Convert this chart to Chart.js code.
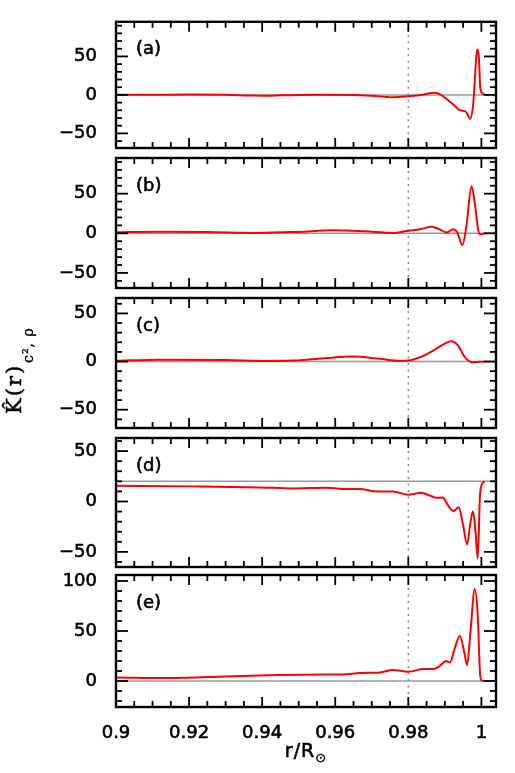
<!DOCTYPE html>
<html>
<head>
<meta charset="utf-8">
<script src="https://cdn.jsdelivr.net/npm/chart.js@4.4.1/dist/chart.umd.min.js"></script>
<style>
  html, body { margin: 0; padding: 0; background: #fff; }
  #wrap { position: relative; width: 515px; height: 773px; }
  #wrap canvas { position: absolute; left: 0; top: 0; }
</style>
</head>
<body>
<div id="wrap">
  <canvas id="pa" width="515" height="773"></canvas>
  <canvas id="pb" width="515" height="773"></canvas>
  <canvas id="pc" width="515" height="773"></canvas>
  <canvas id="pd" width="515" height="773"></canvas>
  <canvas id="pe" width="515" height="773"></canvas>
</div>
<script>
// kernels K(r) for the five cases (r in units of R_sun)
const rA = [0.900, 0.910, 0.920, 0.930, 0.937, 0.941, 0.945, 0.955, 0.965, 0.970, 0.9755, 0.980, 0.9841, 0.9868, 0.9886, 0.9909, 0.9927, 0.9941, 0.9958, 0.9969, 0.9978, 0.9982, 0.9988, 0.9993, 0.9997, 1.0002, 1.0009];
const kA = [0.3, 0.2, 0.4, 0.2, -0.8, -1.0, -0.6, 0.1, 0.0, -1.0, -3.0, -1.7, 0.3, 2.8, 1.0, -7, -14, -20, -22, -31, -10, 19, 59, 49, 9, 2.5, 0];

const rB = [0.900, 0.912, 0.925, 0.9393, 0.950, 0.9593, 0.968, 0.9758, 0.980, 0.9832, 0.9864, 0.9886, 0.9905, 0.9923, 0.9934, 0.9948, 0.9959, 0.9973, 0.9982, 0.9991, 0.9997, 1.0009];
const kB = [1.2, 2.0, 1.5, 0.5, 1.8, 3.7, 2.5, 0.5, 3.3, 5.0, 8.3, 5.0, 1.0, 5.0, 1.0, -15, 9, 59.5, 38, 5, -1.6, 0];

const rC = [0.900, 0.912, 0.9302, 0.9411, 0.9484, 0.957, 0.9649, 0.9722, 0.9777, 0.980, 0.9832, 0.9868, 0.9895, 0.9918, 0.9936, 0.9955, 0.9973, 0.9996, 1.0009];
const kC = [0.7, 2.0, 1.7, 0.7, 1.0, 3.5, 5.2, 2.8, 0.7, 1.0, 4.5, 11.4, 17.5, 21, 16.6, 4.5, -0.7, -0.3, 0];

const rD = [0.900, 0.921, 0.9393, 0.9484, 0.9576, 0.962, 0.9667, 0.9713, 0.9758, 0.980, 0.9836, 0.9859, 0.9877, 0.9894, 0.9909, 0.9923, 0.9938, 0.995, 0.9961, 0.9969, 0.9977, 0.9984, 0.999, 0.9996, 1.0002, 1.0009];
const kD = [15.7, 15.0, 14.0, 13.0, 13.7, 12.4, 12.4, 9.8, 10.0, 6.7, 8.6, 5.9, 3.6, 4.0, -3.9, -9.5, -5.8, -23.5, -42.5, -23.5, -9.7, -30, -56.5, 5, 17.3, 20];

const rE = [0.900, 0.9147, 0.9302, 0.9439, 0.9576, 0.9621, 0.9667, 0.9722, 0.9758, 0.980, 0.9841, 0.9868, 0.9886, 0.9903, 0.9914, 0.9927, 0.9941, 0.9953, 0.9961, 0.997, 0.9982, 0.999, 0.9996, 1.0, 1.0009];
const kE = [3.6, 3.0, 4.6, 6.0, 6.6, 6.6, 8.0, 8.6, 11, 9.3, 12, 12, 15, 20, 18.5, 32.5, 45, 29, 16, 49, 92, 65.6, 9.3, 0.7, 0];

const panelLabels = ['(a)', '(b)', '(c)', '(d)', '(e)'];
const yLimits = [[-69, 95], [-69, 95], [-69, 66], [-65, 63], [-26, 106]];
const yTickLabels = [[-50, 0, 50], [-50, 0, 50], [-50, 0, 50], [-50, 0, 50], [0, 50, 100]];
const refLevels = [0, 0, 0, 20, 0];
const xTickLabels = [0.9, 0.92, 0.94, 0.96, 0.98, 1];
const rMark = 0.98;

const series = [[rA, kA], [rB, kB], [rC, kC], [rD, kD], [rE, kE]];

// layout (pixels)
const tops = [16, 158, 298, 438, 575];
const bottoms = [148, 288, 428, 567, 707];
const W = 515, H = 773;
const tickFont = { family: 'DejaVu Sans', size: 18 };

// fill + thin stroke, to get the heavier look of the original lettering
function heavyText(ctx, s, x, y, lw) {
    ctx.fillText(s, x, y);
    ctx.lineWidth = lw;
    ctx.strokeStyle = '#000';
    ctx.strokeText(s, x, y);
}

// frame, inward ticks, reference line and dotted marker
const decor = {
    id: 'decor',
    beforeDatasetsDraw(chart) {
        const { ctx, chartArea: a, scales: { x, y } } = chart;
        const i = chart.options.plugins.decor.index;
        ctx.save();
        ctx.strokeStyle = '#9a9a9a';
        ctx.lineWidth = 1.5;
        const py = y.getPixelForValue(refLevels[i]);
        ctx.beginPath(); ctx.moveTo(a.left, py); ctx.lineTo(a.right, py); ctx.stroke();
        ctx.strokeStyle = '#888';
        ctx.lineWidth = 1.5;
        ctx.setLineDash([2, 4.5]);
        const px = x.getPixelForValue(rMark);
        ctx.beginPath(); ctx.moveTo(px, a.top); ctx.lineTo(px, a.bottom); ctx.stroke();
        ctx.restore();
    },
    afterDraw(chart) {
        const { ctx, chartArea: a, scales: { x, y } } = chart;
        const i = chart.options.plugins.decor.index;
        ctx.save();
        ctx.strokeStyle = '#000';
        ctx.lineWidth = 1.8;
        const seg = (x1, y1, x2, y2) => { ctx.beginPath(); ctx.moveTo(x1, y1); ctx.lineTo(x2, y2); ctx.stroke(); };
        for (let j = 0; ; j++) {
            const v = 0.9 + j * 0.005;
            if (v > x.max + 1e-9) break;
            const px = x.getPixelForValue(v);
            const len = j % 4 === 0 ? 10 : 6;
            seg(px, a.top, px, a.top + len);
            seg(px, a.bottom, px, a.bottom - len);
        }
        for (let v = Math.ceil(y.min / 10) * 10; v <= y.max; v += 10) {
            const py = y.getPixelForValue(v);
            const len = v % 50 === 0 ? 12 : 6;
            seg(a.left, py, a.left + len, py);
            seg(a.right, py, a.right - len, py);
        }
        ctx.lineWidth = 2.4;
        ctx.strokeRect(a.left, a.top, a.right - a.left, a.bottom - a.top);
        ctx.fillStyle = '#000';
        ctx.font = '18px "DejaVu Sans"';
        ctx.textBaseline = 'middle';
        ctx.textAlign = 'left';
        heavyText(ctx, panelLabels[i], 136, a.top + 28, 0.6);
        ctx.restore();
    }
};

// axis titles, drawn once on the bottom panel
const titles = {
    id: 'titles',
    afterDraw(chart) {
        const { ctx, chartArea: a } = chart;
        ctx.save();
        ctx.fillStyle = '#000';
        ctx.textBaseline = 'alphabetic';
        ctx.textAlign = 'left';
        // y title, rotated
        ctx.translate(21, 414);
        ctx.rotate(-Math.PI / 2);
        ctx.font = '21px "DejaVu Serif"';
        ctx.letterSpacing = '2px';
        const main = 'K\u0302(r)';
        heavyText(ctx, main, 0, 0, 0.5);
        const w = ctx.measureText(main).width;
        ctx.font = '14px "DejaVu Serif"';
        ctx.letterSpacing = '1px';
        heavyText(ctx, 'c\u00b2, \u03c1', w + 1, 12, 0.4);
        ctx.restore();

        ctx.save();
        ctx.fillStyle = '#000';
        ctx.textBaseline = 'alphabetic';
        ctx.textAlign = 'left';
        ctx.font = '19px "DejaVu Sans"';
        ctx.letterSpacing = '1px';
        const xt = 'r/R';
        const tw = ctx.measureText(xt).width;
        ctx.font = '13px "DejaVu Sans"';
        const sw = ctx.measureText('\u2299').width;
        const x0 = (a.left + a.right) / 2 - (tw + sw) / 2;
        ctx.font = '19px "DejaVu Sans"';
        heavyText(ctx, xt, x0, 757, 0.6);
        ctx.font = '13px "DejaVu Sans"';
        heavyText(ctx, '\u2299', x0 + tw, 762, 0.4);
        ctx.restore();
    }
};

function makePanel(id, i) {
    const last = i === 4;
    const [rs, ks] = series[i];
    const xAxisH = 50;
    return new Chart(document.getElementById(id), {
        type: 'line',
        data: {
            datasets: [{
                data: rs.map((r, j) => ({ x: r, y: ks[j] })),
                borderColor: '#ff0000',
                borderWidth: 2,
                pointRadius: 0,
                cubicInterpolationMode: 'monotone',
                fill: false
            }]
        },
        options: {
            responsive: false,
            animation: false,
            events: [],
            layout: {
                padding: { top: tops[i], bottom: last ? H - bottoms[i] - xAxisH : H - bottoms[i], left: 0, right: W - 496 }
            },
            plugins: {
                legend: { display: false },
                tooltip: { enabled: false },
                decor: { index: i }
            },
            scales: {
                x: {
                    type: 'linear', min: 0.9, max: 1.004,
                    display: last,
                    grid: { display: false },
                    border: { display: false },
                    afterFit: s => { s.height = last ? xAxisH : 0; },
                    afterBuildTicks: s => { s.ticks = xTickLabels.map(v => ({ value: v })); },
                    ticks: { font: tickFont, color: '#000', padding: 8, maxRotation: 0, autoSkip: false,
                        textStrokeColor: '#000', textStrokeWidth: 0.6,
                        callback: v => String(+v.toFixed(2)) }
                },
                y: {
                    type: 'linear', min: yLimits[i][0], max: yLimits[i][1],
                    grid: { display: false },
                    border: { display: false },
                    afterFit: s => { s.width = 116; },
                    afterBuildTicks: s => { s.ticks = yTickLabels[i].map(v => ({ value: v })); },
                    ticks: { font: tickFont, color: '#000', padding: 11,
                        textStrokeColor: '#000', textStrokeWidth: 0.6,
                        callback: v => v < 0 ? '\u2212' + Math.abs(v) : String(v) }
                }
            }
        },
        plugins: last ? [decor, titles] : [decor]
    });
}

['pa', 'pb', 'pc', 'pd', 'pe'].forEach((id, i) => makePanel(id, i));
</script>
</body>
</html>
